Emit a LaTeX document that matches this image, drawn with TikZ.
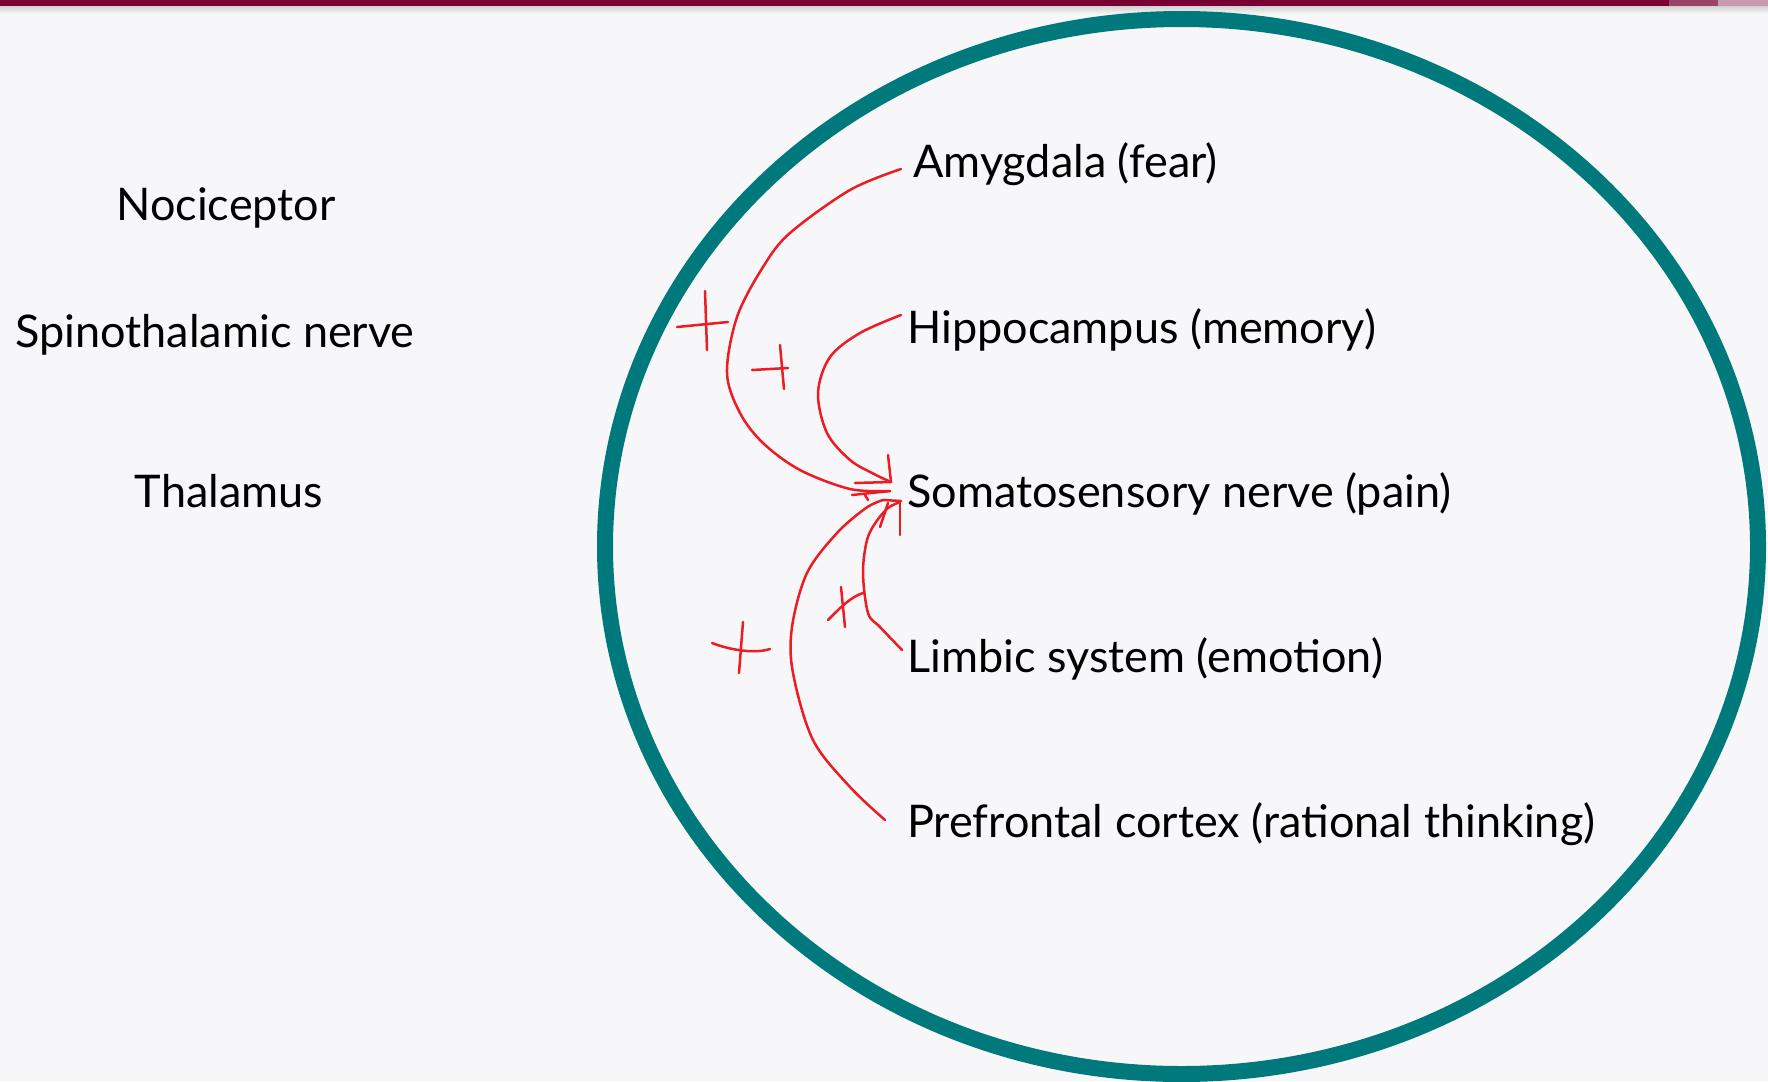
\documentclass[tikz,border=0pt]{standalone}
\usepackage{fontspec}
\setmainfont{Lato}
\definecolor{bg}{HTML}{F7F7F9}
\definecolor{teal}{RGB}{0,121,124}
\definecolor{barA}{HTML}{780032}
\definecolor{barB}{HTML}{9A4468}
\definecolor{barC}{HTML}{C89AAE}
\definecolor{pen}{HTML}{EC1C24}
\begin{document}
\begin{tikzpicture}[x=1pt,y=-1pt,
  lbl/.style={inner sep=0pt,font=\fontsize{45}{54}\selectfont,text=black},
  ink/.style={draw=pen,line width=2.5pt,line cap=round,line join=round},
  inkc/.style={ink,smooth,tension=0.55}]
\fill[bg] (0,0) rectangle (1768,1081);
\useasboundingbox (0,0) rectangle (1768,1081);
% top bar
\shade[top color=black!18,bottom color=bg] (0,6) rectangle (1768,14);
\fill[barA] (0,0) rectangle (1669,6);
\fill[barB] (1669,0) rectangle (1718,6);
\fill[barC] (1718,0) rectangle (1768,6);
% ellipse
\draw[teal,line width=16pt] (1181.5,546.5) ellipse [x radius=576.5,y radius=527.5];
% left labels
\node[lbl,anchor=base] (noci) at (226,220) {Nociceptor};
\node[lbl,anchor=base] (spino) at (215,347) {Spinothalamic nerve};
\node[lbl,anchor=base] (thal) at (229,507) {Thalamus};
% right labels
\node[lbl,anchor=base west] (amy) at (913,177) {Amygdala (fear)};
\node[lbl,anchor=base west] (hip) at (907,343) {Hippocampus (memory)};
\node[lbl,anchor=base west] (soma) at (907,507) {Somatosensory nerve (pain)};
\node[lbl,anchor=base west] (limb) at (907,672) {Limbic system (emotion)};
\node[lbl,anchor=base west] (pref) at (907,837) {Prefrontal cortex (rational thinking)};
% free ends
\coordinate (aS) at (901,169);
\coordinate (hS) at (901,315);
\coordinate (lS) at (902,650);
\coordinate (pS) at (885,820);
\coordinate (aT) at (890,491);
\coordinate (hT) at (891,482);
\coordinate (lT) at (900,502);
\coordinate (pT) at (901,501);
% curves
\draw[inkc] plot coordinates {(aS) (850,190) (790,233) (763,267) (737,317) (727,373) (740,413) (763,443) (800,470) (850,489) (aT)};
\draw[inkc] plot coordinates {(hS) (860,333) (830,357) (818,393) (827,433) (850,460) (874,474) (hT)};
\draw[inkc] plot coordinates {(lS) (880,627) (868,613) (863,573) (867,540) (876,522) (888,508) (lT)};
\draw[inkc] plot coordinates {(pS) (850,787) (813,740) (793,673) (792,627) (807,573) (837,533) (866,508) (883,500)};
% arrowheads
\draw[ink] (888,455) -- (hT) -- (855,483);
\draw[ink] (852,495) -- (aT);
\draw[ink] (865,495) -- (868,500);
\draw[ink] (883,500) -- (pT);
\draw[ink] (880,527) -- (888,503);
\draw[ink] (lT) -- (900,535);
% crosses
\draw[ink] (677,327) -- (728,322);
\draw[ink] (705,291) -- (707,350);
\draw[ink] (752,370) -- (788,368);
\draw[ink] (780,345) -- (784,389);
\draw[ink] (712,643) .. controls (730,650) and (755,654) .. (770,649);
\draw[ink] (743,622) -- (739,673);
\draw[ink] (828,620) .. controls (838,610) and (850,597) .. (863,593);
\draw[ink] (841,587) -- (845,627);
\end{tikzpicture}
\end{document}
